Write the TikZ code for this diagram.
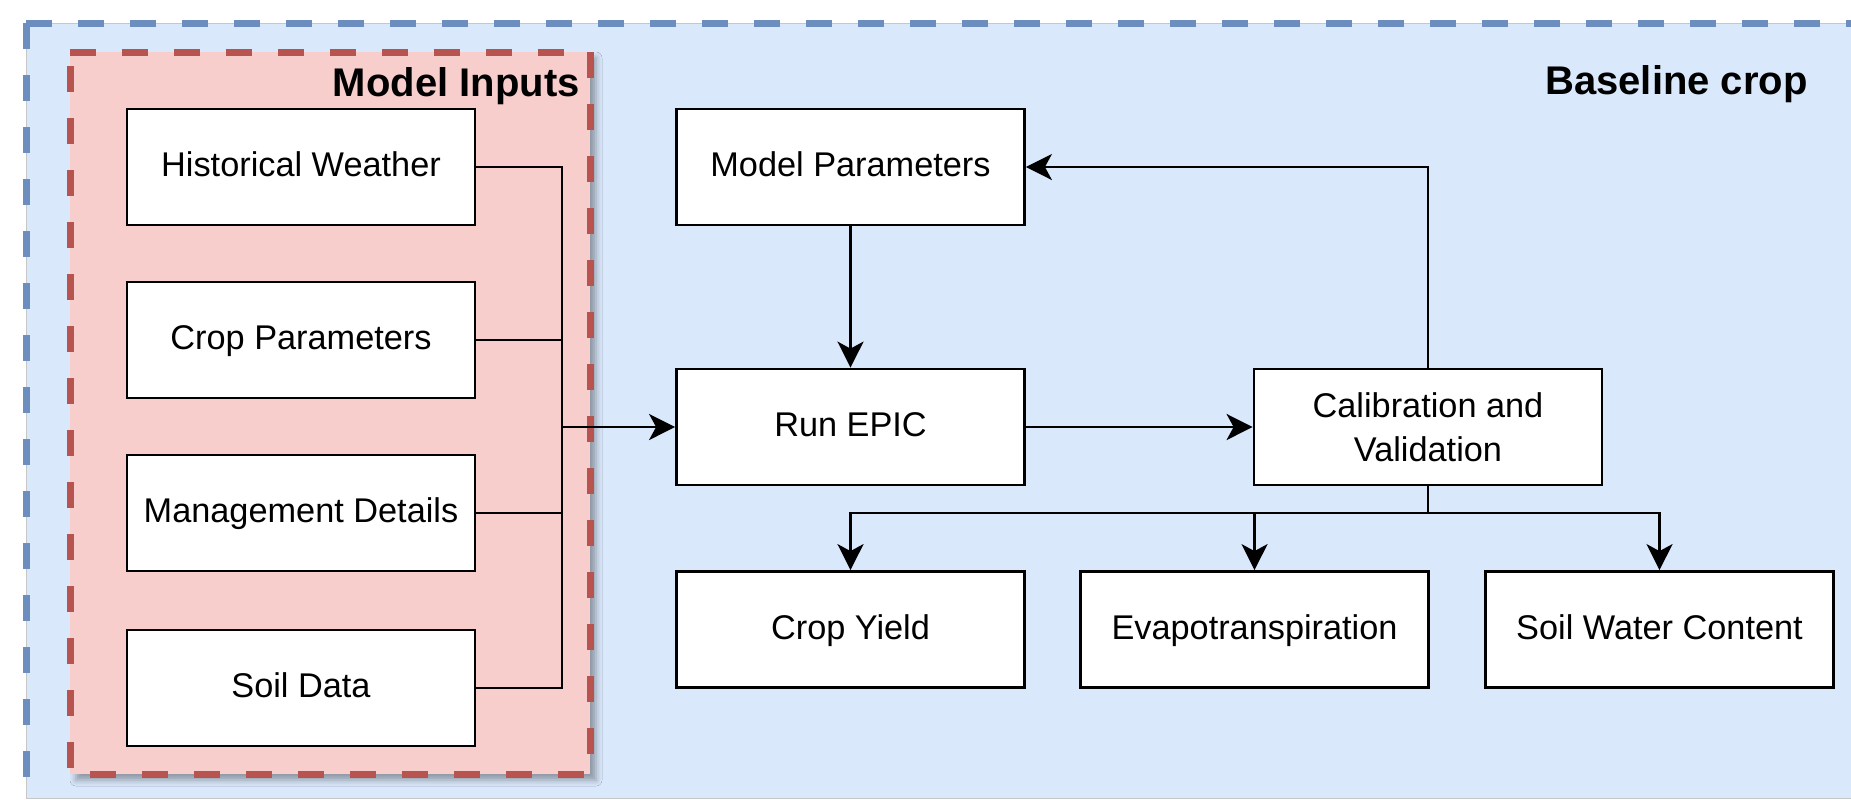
\documentclass[tikz,border=0pt]{standalone}
\usepackage{fontspec}
\setmainfont{Liberation Sans}
\usetikzlibrary{arrows.meta,shadows.blur}
\definecolor{bluefill}{HTML}{DAE8FC}
\definecolor{bluedraw}{HTML}{6C8EBF}
\definecolor{redfill}{HTML}{F8CECC}
\definecolor{reddraw}{HTML}{B85450}
\begin{document}
\begin{tikzpicture}[x=0.5pt,y=-0.5pt,
  boxbase/.style={draw=black, fill=white, line width=1.4pt, minimum width=174pt, minimum height=58pt, inner sep=0pt, align=center, font=\fontsize{17.15pt}{22pt}\selectfont},
  stepbox/.style={boxbase, text height=9.8pt, text depth=0pt},
  conn/.style={draw=black, line width=1.4pt},
  arr/.style={conn, -{Stealth[length=13pt, width=13pt, inset=3.5pt]}},
  grouptitle/.style={font=\fontsize{20pt}{24pt}\selectfont\bfseries, inner sep=0pt, anchor=base east},
  dashbox/.style={line width=3.5pt, dash pattern=on 13pt off 13pt}
]
\useasboundingbox (0,0) rectangle (1851,799);
\fill[white] (0,0) rectangle (1851,799);
% Baseline crop container
\fill[bluefill] (26,23) rectangle (1900,798);
\draw[line width=0.5pt, black!22] (1900,23) -- (26,23) -- (26,798) -- (1900,798);
\draw[dashbox, bluedraw] (26,23) -- (1900,23) (26,23) -- (26,810);
\node[grouptitle] (bctitle) at (1808,94) {Baseline crop};
% Model inputs container
\fill[redfill, blur shadow={shadow xshift=3pt, shadow yshift=-3pt, shadow blur radius=3pt, shadow opacity=35}] (70,52) rectangle (590,774);
\draw[dashbox, reddraw] (70,52) -- (590,52) -- (590,774) -- (70,774) -- cycle;
\node[grouptitle] (mititle) at (580,96.7) {Model Inputs};
% Nodes
\node[stepbox] (hw) at (301,167) {Historical Weather};
\node[stepbox] (cp) at (301,340) {Crop Parameters};
\node[stepbox] (md) at (301,513) {Management Details};
\node[stepbox] (sd) at (301,688) {Soil Data};
\node[stepbox] (mp) at (850.5,167) {Model Parameters};
\node[stepbox] (re) at (850.5,427) {Run EPIC};
\node[boxbase] (cv) at (1428,427) {Calibration and\\Validation};
\node[stepbox] (cy) at (850.5,629.5) {Crop Yield};
\node[stepbox] (et) at (1254.5,629.5) {Evapotranspiration};
\node[stepbox] (swc) at (1659.5,629.5) {Soil Water Content};
% Connectors
\coordinate (jt) at (562,167);
\coordinate (jb) at (562,688);
\coordinate (br) at (1428,513);
\draw[conn] (hw.east) -- (jt) -- (jb) -- (sd.east);
\draw[conn] (cp.east) -- (cp.east -| jt);
\draw[conn] (md.east) -- (md.east -| jt);
\draw[arr] (jt |- re.west) -- (re.west);
\draw[arr] (mp.south) -- (re.north);
\draw[arr] (re.east) -- (cv.west);
\draw[arr] (cv.north) |- (mp.east);
\draw[conn] (cv.south) -- (br);
\draw[arr] (br) -| (cy.north);
\draw[arr] (br) -| (swc.north);
\draw[arr] (et.north |- br) -- (et.north);
\end{tikzpicture}
\end{document}
